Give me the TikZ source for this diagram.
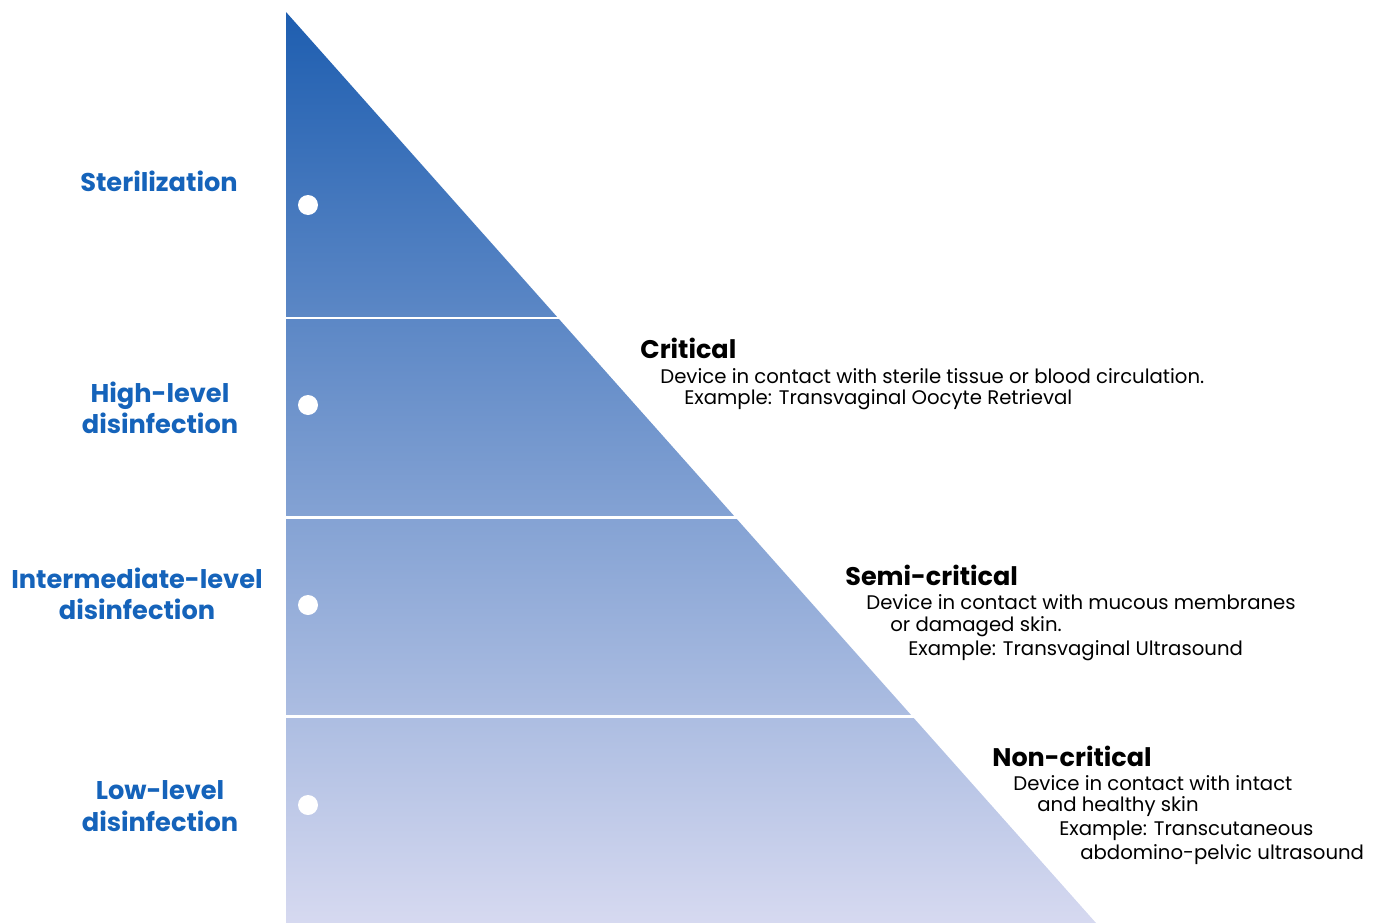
\documentclass[tikz,border=0pt]{standalone}
\usepackage{fontspec}
\setmainfont{Poppins}
\definecolor{levelblue}{RGB}{21,99,186}
\definecolor{topblue}{RGB}{30,94,176}
\definecolor{midblue}{RGB}{124,140,204}
\definecolor{bottomlav}{RGB}{214,217,240}
\tikzset{
  level/.style={font=\fontsize{14.6}{18}\selectfont\bfseries, text=levelblue, align=center, inner sep=0pt},
  classhead/.style={font=\fontsize{14.5}{15}\selectfont\bfseries, anchor=west, inner sep=0pt},
  classtext/.style={font=\fontsize{11.2}{12}\selectfont, anchor=west, inner sep=0pt},
  leveldot/.style={circle, fill=white, minimum size=0.4cm, inner sep=0pt},
  gap/.style={white, line width=1.7pt}
}
\begin{document}
\begin{tikzpicture}[x=0.02cm,y=-0.02cm]
	\useasboundingbox (0,0) rectangle (1373,923);
	% pyramid
	\shade[top color=topblue, middle color=midblue, bottom color=bottomlav] (286,12) -- (1096,923) -- (286,923) -- cycle;
	\draw[gap] (280,318) -- (580,318);
	\draw[gap] (280,517) -- (760,517);
	\draw[gap] (280,716) -- (940,716);
	\node[leveldot] (d1) at (308,205) {};
	\node[leveldot] (d2) at (308,405) {};
	\node[leveldot] (d3) at (308,605) {};
	\node[leveldot] (d4) at (308,805) {};
	% levels
	\node[level] (ster) at (159,181) {Sterilization};
	\node[level] (high) at (160,408) {High-level\\disinfection};
	\node[level] (inter) at (137,594) {Intermediate-level\\disinfection};
	\node[level] (low) at (160,806) {Low-level\\disinfection};
	% classes
	\node[classhead] (crit) at (640,348) {Critical};
	\node[classtext] (crit1) at (660,376) {Device in contact with sterile tissue or blood circulation.};
	\node[classtext] (crit2) at (684,400) {Example: Transvaginal Oocyte Retrieval};
	\node[classhead] (semi) at (845,575) {Semi-critical};
	\node[classtext] (semi1) at (866,602) {Device in contact with mucous membranes};
	\node[classtext] (semi2) at (890,627) {or damaged skin.};
	\node[classtext] (semi3) at (908,651) {Example: Transvaginal Ultrasound};
	\node[classhead] (non) at (992,756) {Non-critical};
	\node[classtext] (non1) at (1013,783) {Device in contact with intact};
	\node[classtext] (non2) at (1037,807) {and healthy skin};
	\node[classtext] (non3) at (1059,831) {Example: Transcutaneous};
	\node[classtext] (non4) at (1080,855) {abdomino-pelvic ultrasound};
\end{tikzpicture}
\end{document}
